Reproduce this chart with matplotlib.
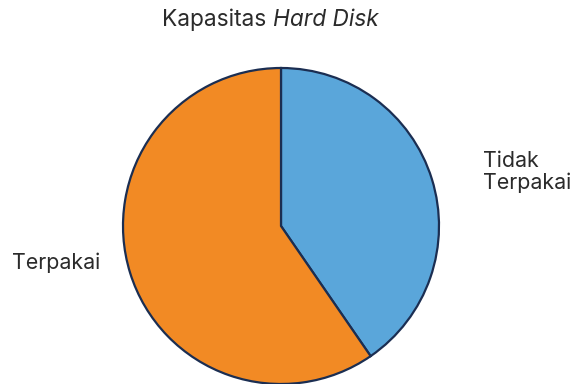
import matplotlib
matplotlib.use("Agg")
import matplotlib.pyplot as plt

plt.rcParams["font.family"] = ["Inter", "DejaVu Sans"]

labels = ["Tidak\nTerpakai", "Terpakai"]
values = [40.4, 59.6]
colors = ["#5aa6da", "#f28a24"]

fig = plt.figure(figsize=(5.76, 3.84), dpi=100)
ax = fig.add_axes([123 / 576, 0 / 384, 316 / 576, 316 / 384])

wedges, _ = ax.pie(
    values,
    colors=colors,
    startangle=90,
    counterclock=False,
    radius=1,
    wedgeprops=dict(edgecolor="#1b2e52", linewidth=1.6),
)
for w in wedges:
    w.set_clip_on(False)
ax.set_xlim(-1, 1)
ax.set_ylim(-1, 1)
ax.set_aspect("equal")
ax.axis("off")

txt_color = "#2b2b2b"
fs = 15.4
fig.text(483 / 576, 1 - 172 / 384, labels[0], ha="left", va="center",
         fontsize=fs, color=txt_color, linespacing=1.15)
fig.text(12 / 576, 1 - 263 / 384, labels[1], ha="left", va="center",
         fontsize=fs, color=txt_color)

# title with italic part
t1 = fig.text(162 / 576, 1 - 20 / 384, "Kapasitas ", ha="left", va="center",
              fontsize=16.3, color=txt_color)
fig.canvas.draw()
bb = t1.get_window_extent()
fig.text(bb.x1 / 576, 1 - 20 / 384, "Hard Disk", ha="left",
         va="center", fontsize=16.3, color=txt_color, style="italic")

fig.savefig("out.png", dpi=100)
